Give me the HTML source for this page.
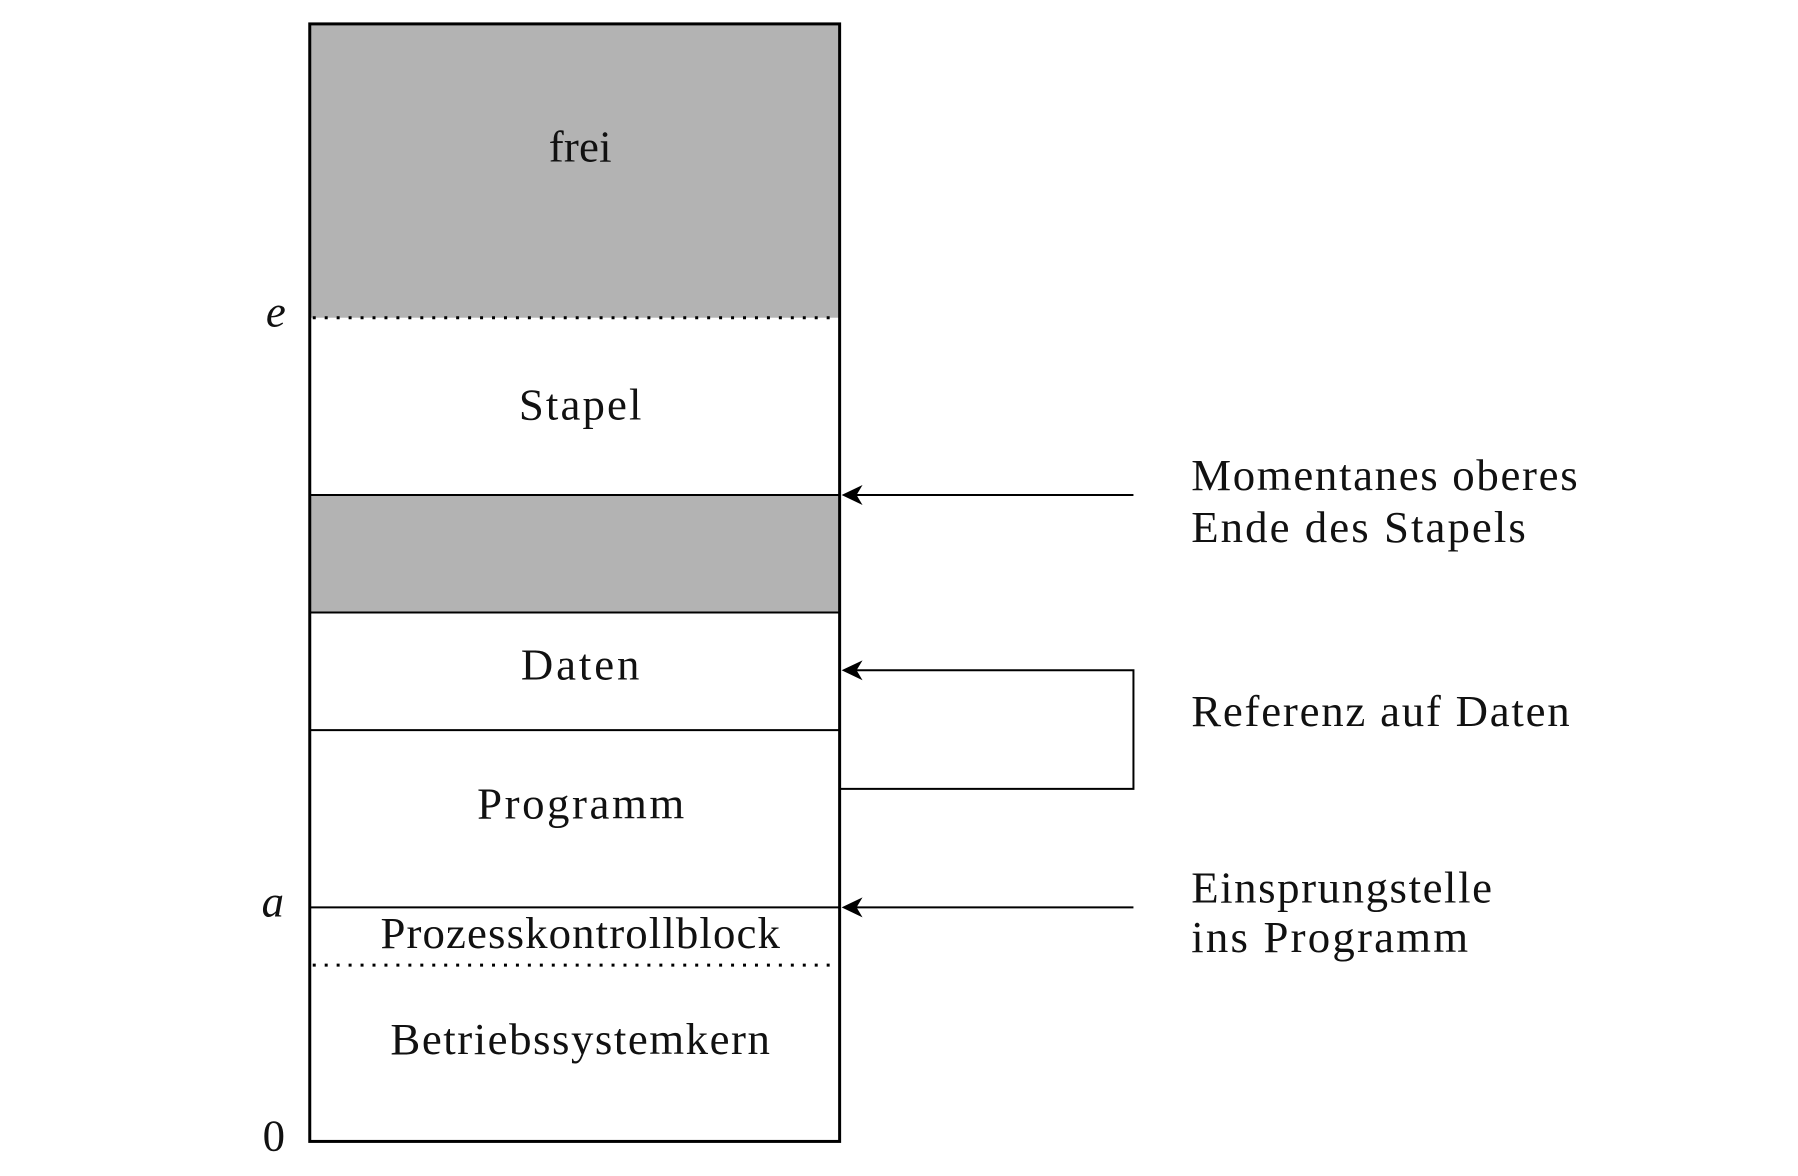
<!DOCTYPE html>
<html><head><meta charset="utf-8"><style>html,body{margin:0;padding:0;background:#fff}svg{display:block}</style></head>
<body>
<svg width="1798" height="1176" viewBox="0 0 1798 1176" xmlns="http://www.w3.org/2000/svg" font-family="'Liberation Serif', serif" font-size="45" fill="#111">
<g transform="scale(0.996)">
<rect x="311" y="24" width="532" height="295" fill="#b3b3b3"/>
<rect x="311" y="497" width="532" height="118" fill="#b3b3b3"/>
<g stroke="#000" stroke-width="2">
<line x1="311" y1="497" x2="843" y2="497"/>
<line x1="311" y1="615" x2="843" y2="615"/>
<line x1="311" y1="733" x2="843" y2="733"/>
<line x1="311" y1="911" x2="843" y2="911"/>
</g>
<g stroke="#000" stroke-width="3" stroke-dasharray="3 9">
<line x1="314" y1="319" x2="843" y2="319"/>
<line x1="314" y1="969" x2="843" y2="969"/>
</g>
<rect x="311" y="24" width="532" height="1122" fill="none" stroke="#000" stroke-width="3"/>
<g stroke="#000" stroke-width="2" fill="none">
<line x1="1138" y1="497" x2="855" y2="497"/>
<polyline points="855,673 1138,673 1138,792 843,792"/>
<line x1="1138" y1="911" x2="855" y2="911"/>
</g>
<g fill="#000">
<path d="M845,497 L866,487 L860,497 L866,507 Z"/>
<path d="M845,673 L866,663 L860,673 L866,683 Z"/>
<path d="M845,911 L866,901 L860,911 L866,921 Z"/>
</g>
<g text-anchor="start" lengthAdjust="spacingAndGlyphs">
<text x="551" y="162" textLength="63">frei</text>
<text x="521" y="421" textLength="123">Stapel</text>
<text x="523" y="682" textLength="119">Daten</text>
<text x="479" y="822" textLength="208">Programm</text>
<text x="382" y="952" textLength="401">Prozesskontrollblock</text>
<text x="392" y="1058" textLength="381">Betriebssystemkern</text>
<text x="1196" y="492" textLength="388">Momentanes oberes</text>
<text x="1196" y="544" textLength="336">Ende des Stapels</text>
<text x="1196" y="729" textLength="380">Referenz auf Daten</text>
<text x="1196" y="906" textLength="302">Einsprungstelle</text>
<text x="1196" y="956" textLength="278">ins Programm</text>
</g>
<g font-style="italic" text-anchor="middle">
<text x="277" y="328">e</text>
<text x="274" y="920">a</text>
</g>
<text x="275" y="1155" text-anchor="middle">0</text>
</g>
</svg>
</body></html>
